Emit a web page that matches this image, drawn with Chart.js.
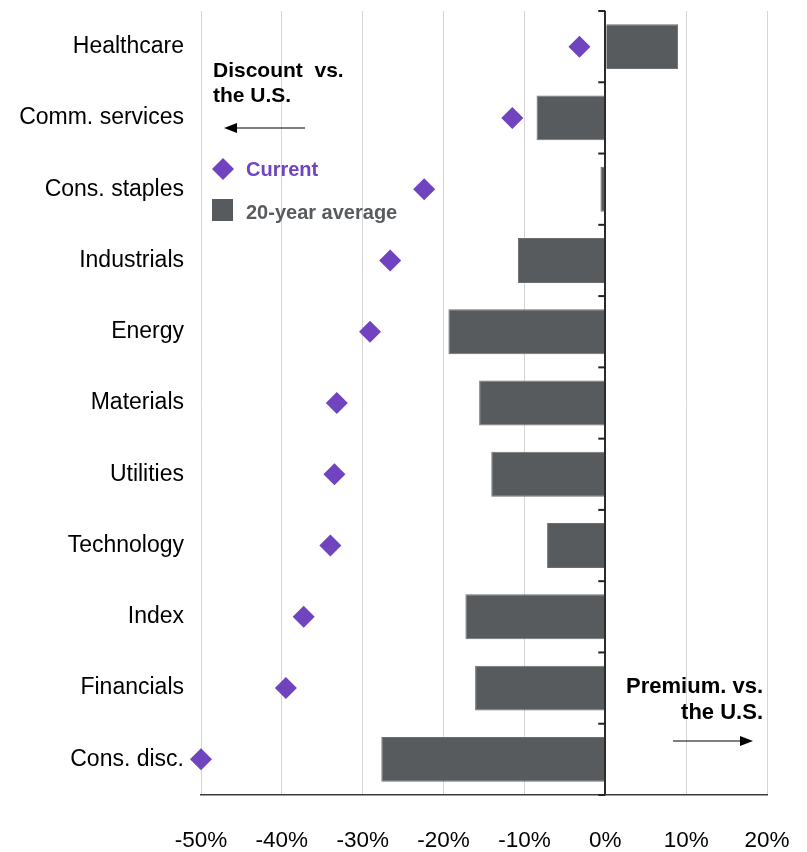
<!DOCTYPE html>
<html>
<head>
<meta charset="utf-8">
<script src="https://cdn.jsdelivr.net/npm/chart.js@4"></script>
<style>
  html, body { margin: 0; padding: 0; background: #fff; }
  #wrap { width: 807px; height: 852px; }
</style>
</head>
<body>
<div id="wrap"><canvas id="myChart" width="807" height="852"></canvas></div>
<script>
// data (percent vs. the U.S.)
const categories = ['Healthcare', 'Comm. services', 'Cons. staples', 'Industrials', 'Energy',
  'Materials', 'Utilities', 'Technology', 'Index', 'Financials', 'Cons. disc.'];
const currentVals = [-3.2, -11.5, -22.4, -26.6, -29.1, -33.2, -33.5, -34.0, -37.3, -39.5, -50.0];
const avgVals = [9.0, -8.5, -0.6, -10.8, -19.4, -15.6, -14.1, -7.2, -17.3, -16.1, -27.7];
const xTicks = [-50, -40, -30, -20, -10, 0, 10, 20];

const FONT = "'Liberation Sans', Arial, sans-serif";
const PURPLE = '#7043bf';
const GREY = '#575b5e';

function arrow(ctx, x1, x2, y) {
    // line from x1 to x2, head at x2
    const dir = x2 > x1 ? 1 : -1;
    ctx.strokeStyle = '#000';
    ctx.lineWidth = 1.2;
    ctx.beginPath();
    ctx.moveTo(x1, y);
    ctx.lineTo(x2 - dir * 10, y);
    ctx.stroke();
    ctx.fillStyle = '#000';
    ctx.beginPath();
    ctx.moveTo(x2, y);
    ctx.lineTo(x2 - dir * 13, y - 5);
    ctx.lineTo(x2 - dir * 13, y + 5);
    ctx.closePath();
    ctx.fill();
}

// zero line ticks + text notes + legend
const notes = {
    id: 'notes',
    afterDraw(chart) {
        const ctx = chart.ctx;
        const xs = chart.scales.x, ys = chart.scales.y;
        const area = chart.chartArea;
        const x0 = xs.getPixelForValue(0);

        ctx.save();
        // small ticks on the zero line between categories
        ctx.strokeStyle = '#222';
        ctx.lineWidth = 2;
        const n = categories.length;
        const bounds = [area.top];
        for (let i = 0; i < n - 1; i++) {
            bounds.push((ys.getPixelForValue(i) + ys.getPixelForValue(i + 1)) / 2);
        }
        bounds.push(area.bottom);
        bounds.forEach(function (y) {
            ctx.beginPath();
            ctx.moveTo(x0 - 7, y);
            ctx.lineTo(x0, y);
            ctx.stroke();
        });

        // discount note
        ctx.font = 'bold 21px ' + FONT;
        ctx.fillStyle = '#000';
        ctx.textAlign = 'left';
        ctx.textBaseline = 'alphabetic';
        ctx.fillText('Discount  vs.', 213, 77);
        ctx.fillText('the U.S.', 213, 102);
        arrow(ctx, 305, 224, 128);

        // legend
        ctx.font = 'bold 20px ' + FONT;
        ctx.fillStyle = PURPLE;
        ctx.beginPath();
        ctx.moveTo(223, 158);
        ctx.lineTo(234, 169);
        ctx.lineTo(223, 180);
        ctx.lineTo(212, 169);
        ctx.closePath();
        ctx.fill();
        ctx.fillText('Current', 246, 176);
        ctx.fillStyle = GREY;
        ctx.fillRect(212, 199, 21, 22);
        ctx.fillText('20-year average', 246, 219);

        // premium note
        ctx.font = 'bold 22px ' + FONT;
        ctx.fillStyle = '#000';
        ctx.textAlign = 'right';
        ctx.fillText('Premium. vs.', 763, 693);
        ctx.fillText('the U.S.', 763, 719);
        arrow(ctx, 673, 753, 741);
        ctx.restore();
    }
};

const canvas = document.getElementById('myChart');
const ctx = canvas.getContext('2d');

new Chart(ctx, {
    type: 'bar',
    data: {
        labels: categories,
        datasets: [
            {
                type: 'line',
                label: 'Current',
                data: currentVals,
                indexAxis: 'y',
                showLine: false,
                clip: false,
                pointStyle: 'rectRot',
                pointRadius: 11,
                pointBackgroundColor: PURPLE,
                pointBorderColor: PURPLE,
                pointBorderWidth: 0,
                order: 0
            },
            {
                label: '20-year average',
                data: avgVals,
                backgroundColor: GREY,
                borderColor: '#6c6f72',
                borderWidth: 1,
                barPercentage: 0.63,
                categoryPercentage: 1,
                order: 1
            }
        ]
    },
    options: {
        indexAxis: 'y',
        responsive: false,
        animation: false,
        layout: { padding: { top: 10, right: 40, left: 0, bottom: 0 } },
        plugins: {
            legend: { display: false },
            tooltip: { enabled: false }
        },
        scales: {
            x: {
                min: -50,
                max: 20,
                afterBuildTicks: function (scale) {
                    scale.ticks = xTicks.map(function (v) { return { value: v }; });
                },
                afterFit: function (scale) {
                    scale.height = 57;
                    scale.paddingLeft = 0;
                    scale.paddingRight = 0;
                },
                grid: {
                    drawTicks: false,
                    color: function (c) { return c.tick && c.tick.value === 0 ? '#2b2b2b' : '#d4d4d4'; },
                    lineWidth: function (c) { return c.tick && c.tick.value === 0 ? 2 : 1; }
                },
                border: { display: true, color: '#3a3a3a', width: 1.5 },
                ticks: {
                    padding: 32,
                    color: '#000',
                    font: { family: FONT, size: 22.5 },
                    callback: function (v) { return v + '%'; }
                }
            },
            y: {
                afterFit: function (scale) {
                    scale.width = 201;
                    scale.paddingTop = 0;
                    scale.paddingBottom = 0;
                },
                grid: { display: false, drawTicks: false },
                border: { display: false },
                ticks: {
                    padding: 17,
                    color: '#000',
                    font: { family: FONT, size: 23 }
                }
            }
        }
    },
    plugins: [notes]
});
</script>
</body>
</html>
